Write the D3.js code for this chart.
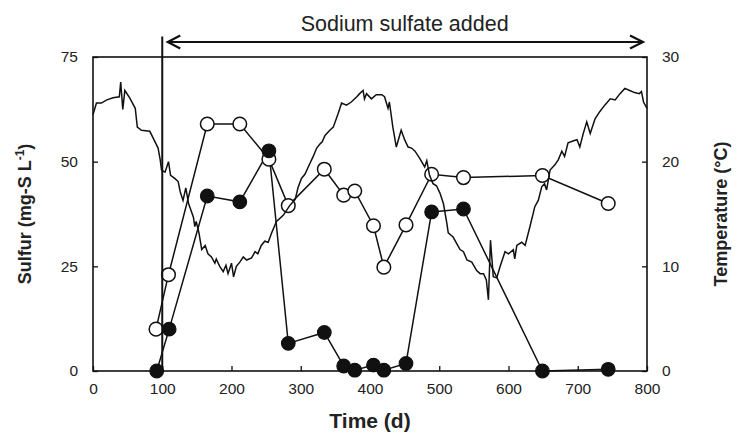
<!DOCTYPE html>
<html>
<head>
<meta charset="utf-8">
<script src="https://cdn.jsdelivr.net/npm/d3@7"></script>
<style>
    body { margin: 0; background: #fff; }
    svg { display: block; font-family: "Liberation Sans", Arial, sans-serif; }
</style>
</head>
<body>
<svg id="chart" width="741" height="447"></svg>
<script>
// sulfur samples (mg-S/L)
const sampleDays = [91, 109, 165, 212, 254, 282, 334, 362, 378, 405, 420, 452, 489, 535, 649, 744];
const openSulfur = [10, 23, 59, 59, 50.6, 39.5, 48.2, 42, 43, 34.7, 24.8, 34.9, 47, 46.2, 46.7, 40];
const filledDays = [92, 110, 165, 212, 254, 282, 334, 362, 378, 405, 420, 452, 489, 535, 649, 744];
const filledSulfur = [0, 10, 41.8, 40.4, 52.6, 6.6, 9.2, 1.2, 0.2, 1.4, 0.2, 1.8, 38, 38.7, 0, 0.4];

// temperature record (deg C)
const tempDays = [0, 5, 12, 20, 29, 38, 40, 43, 46, 53, 61, 64, 70, 82, 88, 94, 97, 99, 104, 109,
    112, 118, 123, 126, 130, 134, 138, 145, 147, 149, 153, 157, 162, 166, 171, 176, 178, 183, 188, 192,
    195, 200, 203, 207, 212, 217, 222, 229, 234, 238, 243, 248, 253, 258, 265, 275, 284, 292, 296, 301,
    306, 313, 318, 323, 328, 331, 335, 342, 347, 354, 359, 366, 373, 381, 385, 390, 392, 395, 402, 409,
    417, 421, 426, 428, 433, 438, 445, 450, 455, 460, 465, 472, 479, 482, 486, 491, 496, 501, 506, 511,
    513, 520, 530, 535, 540, 547, 554, 559, 564, 568, 571, 574, 578, 583, 588, 595, 600, 607, 609, 612,
    619, 624, 631, 638, 643, 648, 652, 655, 660, 667, 672, 677, 681, 686, 694, 699, 703, 708, 713, 718,
    725, 732, 739, 747, 754, 761, 768, 775, 782, 789, 792, 795, 800];
const tempValues = [24.5, 25.6, 25.6, 25.9, 26.1, 26.2, 27.6, 25.0, 26.8, 26.1, 25.1, 23.3, 23.0, 22.9, 22.1, 21.3, 20.2, 19.2, 19.0, 20.0,
    18.7, 18.4, 18.1, 17.1, 16.3, 17.5, 16.0, 14.7, 13.8, 14.3, 13.2, 11.6, 12.0, 11.2, 10.9, 10.3, 10.7, 10.0, 9.5, 10.1,
    9.3, 10.3, 9.0, 10.0, 10.4, 10.9, 10.6, 10.8, 11.4, 11.2, 12.0, 12.4, 12.3, 13.2, 14.3, 14.9, 15.8, 16.4, 17.5, 18.4,
    18.8, 19.8, 20.5, 21.3, 21.7, 21.9, 22.5, 23.0, 23.3, 24.6, 25.6, 25.4, 25.7, 26.2, 26.5, 26.8, 26.0, 26.5, 26.0, 26.4,
    26.4, 26.2, 25.1, 25.7, 23.3, 21.4, 23.0, 22.1, 21.4, 21.3, 21.0, 20.3, 19.5, 20.1, 18.7, 17.9, 17.7, 17.0, 16.0, 14.1,
    13.2, 12.8, 11.6, 11.4, 10.6, 10.4, 9.6, 9.3, 9.3, 8.7, 6.8, 12.5, 9.0, 8.9, 10.0, 11.4, 11.2, 11.6, 10.7, 12.0,
    12.3, 12.0, 13.8, 15.7, 16.3, 17.6, 17.9, 17.3, 19.2, 19.7, 20.2, 21.0, 20.5, 21.8, 22.0, 22.1, 21.4, 22.7, 23.8, 22.7,
    24.1, 24.8, 25.4, 26.0, 25.9, 26.5, 27.0, 26.8, 26.6, 26.5, 26.7, 25.7, 25.1];

const xTicks = [0, 100, 200, 300, 400, 500, 600, 700, 800];
const sulfurTicks = [0, 25, 50, 75];
const tempTicks = [0, 10, 20, 30];
const additionStart = 100;
const additionEnd = 800;

const margin = { top: 57, right: 94, bottom: 76, left: 93 };
const width = 741 - margin.left - margin.right;
const height = 447 - margin.top - margin.bottom;

const svg = d3.select("#chart");
const g = svg.append("g").attr("transform", `translate(${margin.left},${margin.top})`);

const x = d3.scaleLinear().domain([0, 800]).range([0, width]);
const ySulfur = d3.scaleLinear().domain([0, 75]).range([height, 0]);
const yTemp = d3.scaleLinear().domain([0, 30]).range([height, 0]);

// axes, ticks pointing inward
const xAxis = g.append("g").attr("transform", `translate(0,${height})`)
    .call(d3.axisBottom(x).tickValues(xTicks).tickSizeInner(-5).tickSizeOuter(0).tickPadding(12));
const leftAxis = g.append("g")
    .call(d3.axisLeft(ySulfur).tickValues(sulfurTicks).tickSizeInner(-5).tickSizeOuter(0).tickPadding(15));
const rightAxis = g.append("g").attr("transform", `translate(${width},0)`)
    .call(d3.axisRight(yTemp).tickValues(tempTicks).tickSizeInner(-5).tickSizeOuter(0).tickPadding(15));

[xAxis, leftAxis, rightAxis].forEach(function (a) {
    a.select(".domain").remove();
    a.selectAll("line").attr("stroke", "#111").attr("stroke-width", 1.3);
    a.selectAll("text").attr("font-size", 15.5).attr("fill", "#222").attr("font-family", null);
});

// frame
g.append("rect")
    .attr("x", 0).attr("y", 0)
    .attr("width", width).attr("height", height)
    .attr("fill", "none").attr("stroke", "#111").attr("stroke-width", 1.6);

// open circle series
const lineOpen = d3.line().x((d, i) => x(sampleDays[i])).y(d => ySulfur(d));
g.append("path")
    .attr("d", lineOpen(openSulfur))
    .attr("fill", "none").attr("stroke", "#111").attr("stroke-width", 1.5);

const lineFilled = d3.line().x((d, i) => x(filledDays[i])).y(d => ySulfur(d));
g.append("path")
    .attr("d", lineFilled(filledSulfur))
    .attr("fill", "none").attr("stroke", "#111").attr("stroke-width", 1.5);

g.selectAll(".open")
    .data(openSulfur)
    .enter().append("circle")
    .attr("class", "open")
    .attr("cx", (d, i) => x(sampleDays[i]))
    .attr("cy", d => ySulfur(d))
    .attr("r", 6.8)
    .attr("fill", "#fff").attr("stroke", "#111").attr("stroke-width", 1.5);

g.selectAll(".filled")
    .data(filledSulfur)
    .enter().append("circle")
    .attr("class", "filled")
    .attr("cx", (d, i) => x(filledDays[i]))
    .attr("cy", d => ySulfur(d))
    .attr("r", 6.8)
    .attr("fill", "#111").attr("stroke", "#111").attr("stroke-width", 1.2);

// temperature trace on top
const lineTemp = d3.line().x((d, i) => x(tempDays[i])).y(d => yTemp(d));
g.append("path")
    .attr("d", lineTemp(tempValues))
    .attr("fill", "none").attr("stroke", "#111").attr("stroke-width", 1.5)
    .attr("stroke-linejoin", "miter");

// sodium sulfate addition marker
const xa = x(additionStart);
const xb = x(additionEnd);
const arrowY = 42 - margin.top;
g.append("line")
    .attr("x1", xa).attr("x2", xa)
    .attr("y1", 36.5 - margin.top).attr("y2", height)
    .attr("stroke", "#111").attr("stroke-width", 2);

g.append("line")
    .attr("x1", xa + 6).attr("x2", xb - 5)
    .attr("y1", arrowY).attr("y2", arrowY)
    .attr("stroke", "#111").attr("stroke-width", 2);

g.append("path")
    .attr("d", `M ${xa + 18},${arrowY - 6.5} L ${xa + 5.5},${arrowY} L ${xa + 18},${arrowY + 6.5}`)
    .attr("fill", "none").attr("stroke", "#111").attr("stroke-width", 2.2);
g.append("path")
    .attr("d", `M ${xb - 17},${arrowY - 6.5} L ${xb - 4},${arrowY} L ${xb - 17},${arrowY + 6.5}`)
    .attr("fill", "none").attr("stroke", "#111").attr("stroke-width", 2.2);

svg.append("text")
    .attr("x", margin.left + (xa + xb) / 2)
    .attr("y", 30.5)
    .attr("text-anchor", "middle")
    .attr("font-size", 21.5)
    .attr("fill", "#222")
    .text("Sodium sulfate added");

// axis titles
svg.append("text")
    .attr("x", margin.left + width / 2)
    .attr("y", 428)
    .attr("text-anchor", "middle")
    .attr("font-size", 21)
    .attr("font-weight", "bold")
    .attr("fill", "#222")
    .text("Time (d)");

const leftTitle = svg.append("text")
    .attr("transform", `translate(31,${margin.top + height / 2}) rotate(-90)`)
    .attr("text-anchor", "middle")
    .attr("font-size", 18)
    .attr("font-weight", "bold")
    .attr("fill", "#222");
leftTitle.append("tspan").text("Sulfur (mg-S L");
leftTitle.append("tspan").attr("font-size", 12).attr("dy", -7).text("-1");
leftTitle.append("tspan").attr("dy", 7).text(")");

svg.append("text")
    .attr("transform", `translate(727,${margin.top + height / 2}) rotate(-90)`)
    .attr("text-anchor", "middle")
    .attr("font-size", 18)
    .attr("font-weight", "bold")
    .attr("fill", "#222")
    .text("Temperature (°C)");
</script>
</body>
</html>
